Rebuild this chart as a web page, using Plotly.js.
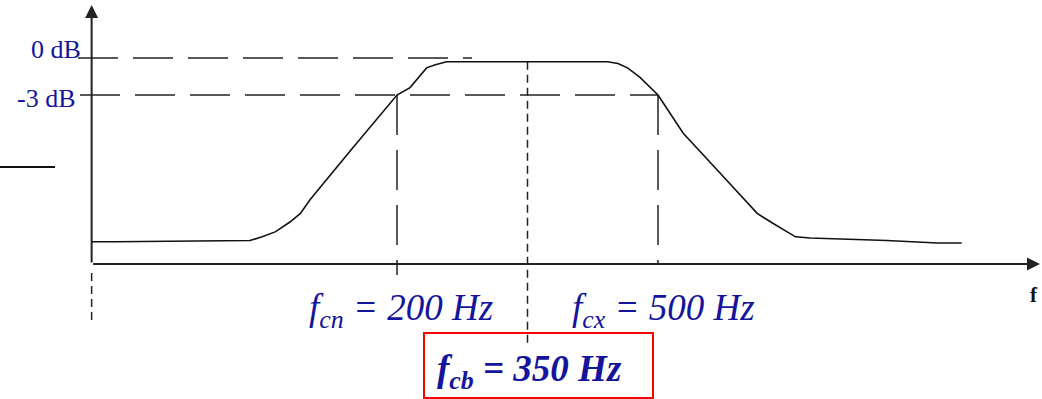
<!DOCTYPE html>
<html>
<head>
<meta charset="utf-8">
<script src="https://cdn.plot.ly/plotly-3.0.1.min.js"></script>
<style>html,body{margin:0;padding:0;background:#fff;}#chart{width:1042px;height:399px;}</style>
</head>
<body>
<div id="chart"></div>
<script>
// ---- data (frequency in Hz, gain in dB) ----
const freqHz = [-151, -124, 31, 45, 60, 77, 89, 100, 149, 200, 215, 234, 244, 257, 442, 454, 465, 479, 500, 529, 571, 614, 632, 646, 658, 675, 763, 821, 849];
const gainDb = [-14.9, -14.9, -14.8, -14.5, -14.1, -13.3, -12.6, -11.5, -7.3, -3.0, -2.4, -0.8, -0.55, -0.3, -0.3, -0.45, -0.8, -1.55, -3.0, -6.1, -9.3, -12.6, -13.4, -14.0, -14.5, -14.6, -14.8, -15.0, -15.0];
const cutoffLowHz = 200;    // f_cn
const cutoffHighHz = 500;   // f_cx
const centerHz = 350;       // f_cb
const refLevelsDb = [0, -3];
const tickLabels = ["0 dB", "-3 dB"];
const cutoffLabels = ["<i>f<sub>cn</sub> = 200 Hz</i>", "<i>f<sub>cx</sub> = 500 Hz</i>", "<b><i>f<sub>cb</sub> = 350 Hz</i></b>"];
const axisLabel = "<b>f</b>";

// ---- scale set-up (layout) ----
const W = 1042, H = 399;
const X0PX = 397, PX_PER_HZ = 0.87;
const Y0PX = 58, PX_PER_DB = 37 / 3;
const fx = px => cutoffLowHz + (px - X0PX) / PX_PER_HZ;
const dy = py => (Y0PX - py) / PX_PER_DB;

const originF = freqHz[0];
const axisDb = dy(264);
const textBlue = "#14149c";
const serif = "Liberation Serif, Times New Roman, serif";
const topDb = -0.3;

const dashLong = "40px,15px";
const dashShort = "8px,5px";
function seg(x, y, dash, w) {
  return {type: "scatter", mode: "lines", x: x, y: y, hoverinfo: "skip",
          line: {color: "#222", width: w || 1.5, dash: dash}, showlegend: false};
}

const traces = [
  // 0 dB and -3 dB reference lines
  seg([fx(78), fx(472)], [refLevelsDb[0], refLevelsDb[0]], dashLong),
  seg([fx(80), cutoffHighHz], [refLevelsDb[1], refLevelsDb[1]], dashLong),
  // vertical cut-off markers
  seg([cutoffLowHz, cutoffLowHz], [refLevelsDb[1], dy(275)], dashLong),
  seg([cutoffHighHz, cutoffHighHz], [refLevelsDb[1], axisDb], dashLong),
  seg([centerHz, centerHz], [topDb, dy(347)], dashShort),
  seg([originF, originF], [dy(273), dy(323)], dashShort),
  // response curve
  {type: "scatter", mode: "lines", x: freqHz, y: gainDb, hoverinfo: "skip", showlegend: false,
   line: {color: "#111", width: 1.6}}
];

const annotations = [
  // axes with arrowheads
  {x: fx(1040), y: axisDb, ax: originF, ay: axisDb, axref: "x", ayref: "y", xref: "x", yref: "y",
   text: "", showarrow: true, arrowhead: 2, arrowsize: 1.3, arrowwidth: 2, arrowcolor: "#222", standoff: 0},
  {x: originF, y: dy(5), ax: originF, ay: axisDb, axref: "x", ayref: "y", xref: "x", yref: "y",
   text: "", showarrow: true, arrowhead: 2, arrowsize: 1.3, arrowwidth: 2, arrowcolor: "#222", standoff: 0},
  // tick labels
  {x: fx(83), y: refLevelsDb[0], yshift: 9, xanchor: "right", yanchor: "middle", showarrow: false,
   text: tickLabels[0], font: {family: serif, size: 26, color: textBlue}},
  {x: fx(78), y: refLevelsDb[1], yshift: -3, xanchor: "right", yanchor: "middle", showarrow: false,
   text: tickLabels[1], font: {family: serif, size: 26, color: textBlue}},
  // cut-off labels
  {x: fx(307), y: dy(310), xanchor: "left", yanchor: "middle", showarrow: false,
   text: cutoffLabels[0], font: {family: serif, size: 37, color: textBlue}},
  {x: fx(570), y: dy(310), xanchor: "left", yanchor: "middle", showarrow: false,
   text: cutoffLabels[1], font: {family: serif, size: 37, color: textBlue}},
  {x: fx(435), y: dy(371), xanchor: "left", yanchor: "middle", showarrow: false,
   text: cutoffLabels[2], font: {family: serif, size: 37, color: textBlue}},
  {x: fx(1034), y: dy(295), xanchor: "center", yanchor: "middle", showarrow: false,
   text: axisLabel, font: {family: serif, size: 21, color: "#111"}}
];

const shapes = [
  {type: "rect", xref: "x", yref: "y", x0: fx(424), x1: fx(653), y0: dy(333), y1: dy(398),
   line: {color: "#ff0000", width: 2}, fillcolor: "rgba(0,0,0,0)"},
  {type: "line", xref: "x", yref: "y", x0: fx(0), x1: fx(55), y0: dy(167), y1: dy(167),
   line: {color: "#111", width: 2}}
];

const layout = {
  width: W, height: H,
  margin: {l: 0, r: 0, t: 0, b: 0},
  paper_bgcolor: "#fff", plot_bgcolor: "#fff",
  xaxis: {range: [fx(0), fx(W)], visible: false, fixedrange: true},
  yaxis: {range: [dy(H), dy(0)], visible: false, fixedrange: true},
  showlegend: false,
  annotations: annotations,
  shapes: shapes
};

Plotly.newPlot("chart", traces, layout, {staticPlot: true, displayModeBar: false});
</script>
</body>
</html>
